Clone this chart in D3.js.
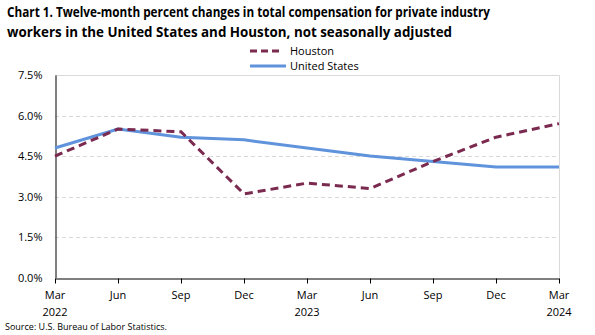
<!DOCTYPE html>
<html>
<head>
<meta charset="utf-8">
<script src="https://cdn.jsdelivr.net/npm/d3@7"></script>
<style>
  body { margin: 0; background: #fff; }
  text { font-family: "Open Sans", "Noto Sans", sans-serif; fill: #000; }
</style>
</head>
<body>
<div id="chart"></div>
<script>
var quarters = ['Mar 2022', 'Jun 2022', 'Sep 2022', 'Dec 2022', 'Mar 2023', 'Jun 2023', 'Sep 2023', 'Dec 2023', 'Mar 2024'];
var tickMonths = ['Mar', 'Jun', 'Sep', 'Dec', 'Mar', 'Jun', 'Sep', 'Dec', 'Mar'];
var tickYears = ['2022', '', '', '', '2023', '', '', '', '2024'];
var houston = [4.5, 5.5, 5.4, 3.1, 3.5, 3.3, 4.3, 5.2, 5.7];
var unitedStates = [4.8, 5.5, 5.2, 5.1, 4.8, 4.5, 4.3, 4.1, 4.1];
var yTicks = [0, 1.5, 3.0, 4.5, 6.0, 7.5];

var width = 595, height = 335;
var margin = { left: 55, right: 36, top: 75, bottom: 57 };

var svg = d3.select('#chart')
  .append('svg')
  .attr('width', width)
  .attr('height', height);

var x = d3.scalePoint()
  .domain(quarters)
  .range([margin.left, width - margin.right]);

var y = d3.scaleLinear()
  .domain([0, 7.5])
  .range([height - margin.bottom - 0.3, margin.top]);

// title
svg.append('text')
  .attr('x', 7).attr('y', 17)
  .attr('font-size', 14.2).attr('font-weight', 'bold')
  .attr('textLength', 483).attr('lengthAdjust', 'spacingAndGlyphs')
  .text('Chart 1. Twelve-month percent changes in total compensation for private industry');
svg.append('text')
  .attr('x', 7).attr('y', 37)
  .attr('font-size', 14.2).attr('font-weight', 'bold')
  .attr('textLength', 445).attr('lengthAdjust', 'spacingAndGlyphs')
  .text('workers in the United States and Houston, not seasonally adjusted');

// gridlines
svg.append('g')
  .selectAll('line')
  .data(yTicks.filter(function (d) { return d > 0 && d < 7.5; }))
  .enter()
  .append('line')
  .attr('x1', margin.left)
  .attr('x2', width - margin.right)
  .attr('y1', function (d) { return Math.round(y(d)) + 0.5; })
  .attr('y2', function (d) { return Math.round(y(d)) + 0.5; })
  .attr('stroke', '#d9d9d9')
  .attr('stroke-dasharray', '4,3');

// plot frame (top and right)
svg.append('path')
  .attr('d', 'M' + margin.left + ',' + (y(7.5) + 0.5) + 'H' + (x.range()[1] + 0.5) + 'V' + y(0))
  .attr('fill', 'none')
  .attr('stroke', '#d9d9d9');

// y axis
var yAxis = svg.append('g')
  .attr('transform', 'translate(' + (margin.left + 0.5) + ',0)')
  .call(d3.axisLeft(y).tickValues(yTicks).tickSize(0).tickPadding(13)
    .tickFormat(function (d) { return d.toFixed(1) + '%'; }));
yAxis.select('.domain').attr('stroke', '#000');
yAxis.selectAll('text').attr('font-size', 11).attr('font-family', '"Open Sans", sans-serif').attr('fill', '#000');

// x axis
var xAxis = svg.append('g')
  .attr('transform', 'translate(0,' + (Math.round(y(0)) + 0.5) + ')')
  .call(d3.axisBottom(x).tickSize(5).tickSizeOuter(0).tickFormat(''));
xAxis.select('.domain').attr('stroke', '#000');
xAxis.selectAll('.tick line').attr('stroke', '#000');

var xLabels = svg.append('g');
xLabels.selectAll('.month')
  .data(quarters)
  .enter()
  .append('text')
  .attr('x', function (d) { return x(d); })
  .attr('y', 299)
  .attr('text-anchor', 'middle')
  .attr('font-size', 11)
  .text(function (d, i) { return tickMonths[i]; });
xLabels.selectAll('.year')
  .data(quarters)
  .enter()
  .append('text')
  .attr('x', function (d) { return x(d); })
  .attr('y', 316)
  .attr('text-anchor', 'middle')
  .attr('font-size', 11)
  .text(function (d, i) { return tickYears[i]; });

// series
var line = d3.line()
  .x(function (d, i) { return x(quarters[i]); })
  .y(function (d) { return y(d); });

svg.append('path')
  .datum(unitedStates)
  .attr('d', line)
  .attr('fill', 'none')
  .attr('stroke', '#5f93db')
  .attr('stroke-width', 3);

svg.append('path')
  .datum(houston)
  .attr('d', line)
  .attr('fill', 'none')
  .attr('stroke', '#7b2a4f')
  .attr('stroke-width', 3)
  .attr('stroke-dasharray', '8,5');

// legend
var legend = svg.append('g');
legend.append('line')
  .attr('x1', 250).attr('x2', 280).attr('y1', 51).attr('y2', 51)
  .attr('stroke', '#7b2a4f').attr('stroke-width', 3).attr('stroke-dasharray', '7,4');
legend.append('text')
  .attr('x', 290).attr('y', 55).attr('font-size', 11).text('Houston');
legend.append('line')
  .attr('x1', 250).attr('x2', 286).attr('y1', 66).attr('y2', 66)
  .attr('stroke', '#5f93db').attr('stroke-width', 3);
legend.append('text')
  .attr('x', 290).attr('y', 70).attr('font-size', 11).text('United States');

// source note
svg.append('text')
  .attr('x', 5).attr('y', 330)
  .attr('font-size', 9)
  .text('Source: U.S. Bureau of Labor Statistics.');
</script>
</body>
</html>
